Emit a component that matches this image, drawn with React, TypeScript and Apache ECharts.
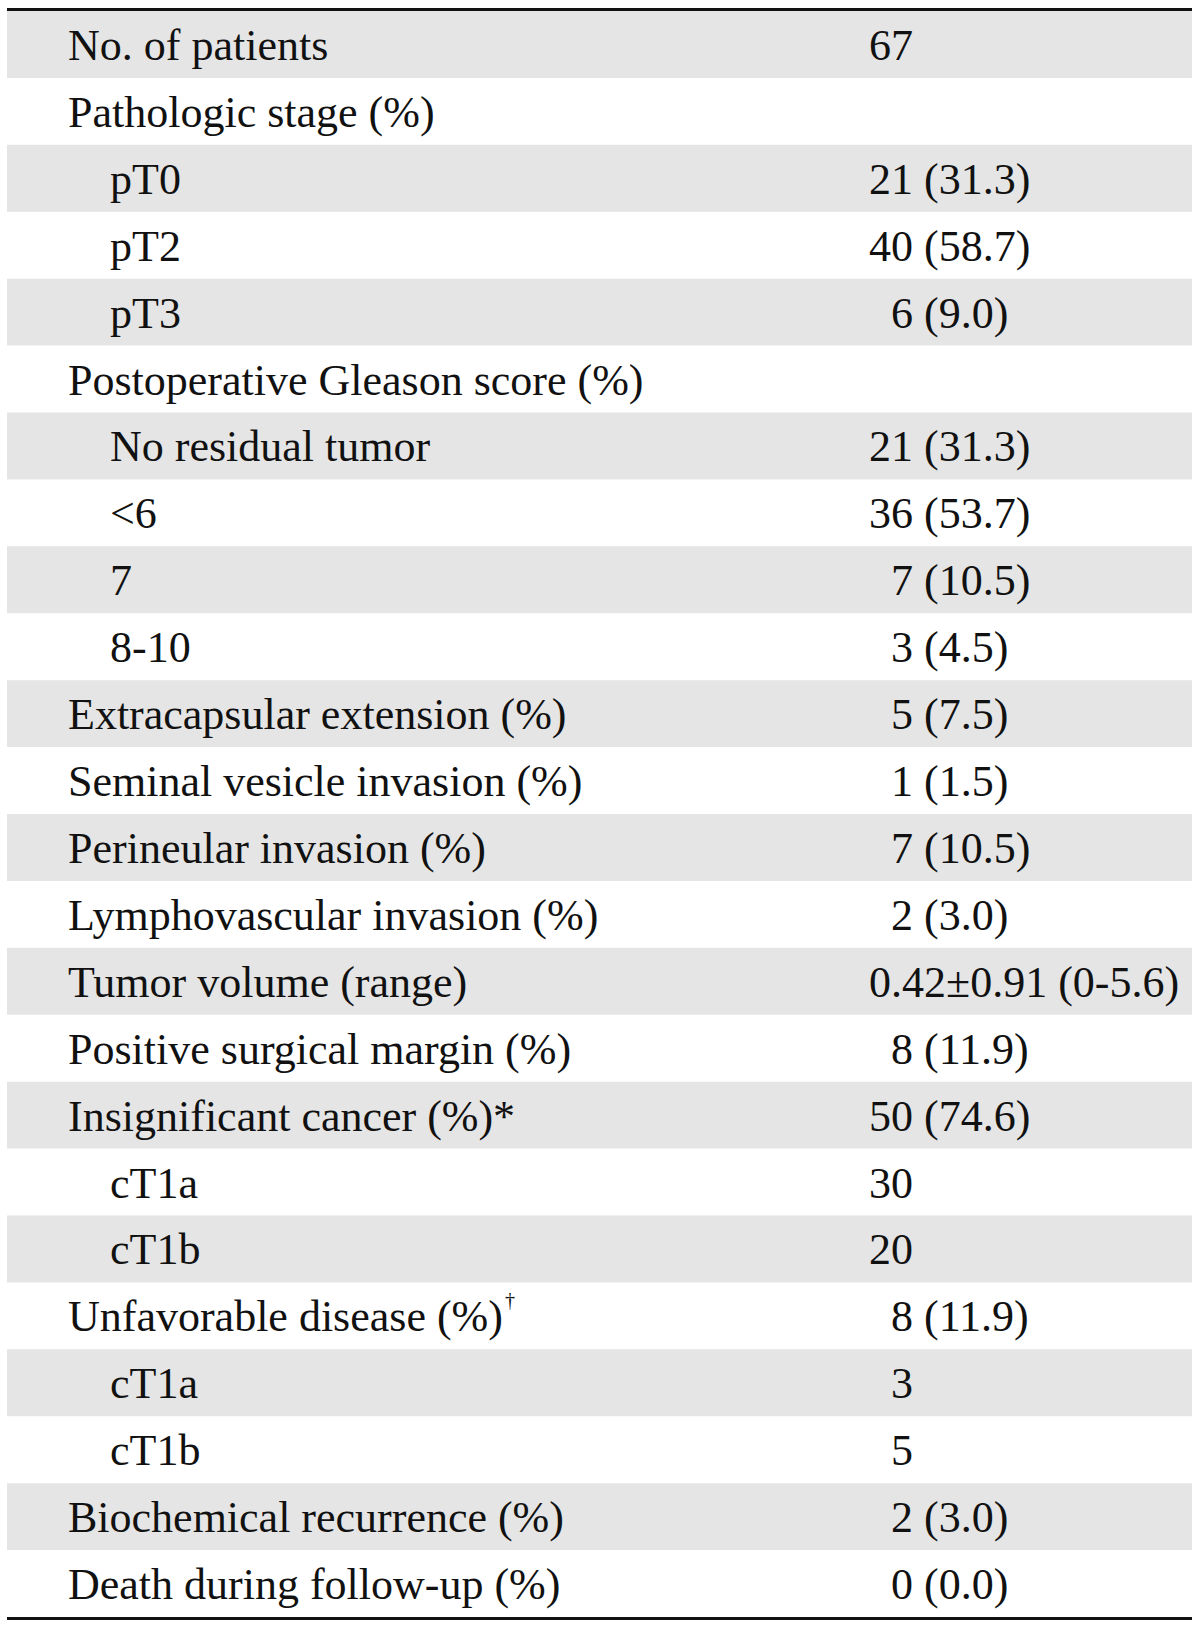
import React, { useEffect, useRef } from "react";
import * as echarts from "echarts";

const rowLabels: string[] = [
  "No. of patients",
  "Pathologic stage (%)",
  "pT0",
  "pT2",
  "pT3",
  "Postoperative Gleason score (%)",
  "No residual tumor",
  "<6",
  "7",
  "8-10",
  "Extracapsular extension (%)",
  "Seminal vesicle invasion (%)",
  "Perineular invasion (%)",
  "Lymphovascular invasion (%)",
  "Tumor volume (range)",
  "Positive surgical margin (%)",
  "Insignificant cancer (%)*",
  "cT1a",
  "cT1b",
  "Unfavorable disease (%)",
  "cT1a",
  "cT1b",
  "Biochemical recurrence (%)",
  "Death during follow-up (%)",
];

const rowValues: string[] = [
  "67",
  "",
  "21 (31.3)",
  "40 (58.7)",
  "6 (9.0)",
  "",
  "21 (31.3)",
  "36 (53.7)",
  "7 (10.5)",
  "3 (4.5)",
  "5 (7.5)",
  "1 (1.5)",
  "7 (10.5)",
  "2 (3.0)",
  "0.42±0.91 (0-5.6)",
  "8 (11.9)",
  "50 (74.6)",
  "30",
  "20",
  "8 (11.9)",
  "3",
  "5",
  "2 (3.0)",
  "0 (0.0)",
];

const rowLevels: number[] = [0, 0, 1, 1, 1, 0, 1, 1, 1, 1, 0, 0, 0, 0, 0, 0, 0, 1, 1, 0, 1, 1, 0, 0];

const rowSuperscripts: string[] = [
  "", "", "", "", "", "", "", "", "", "", "", "", "", "", "", "", "", "", "", "†", "", "", "", "",
];

const FONT = '"Liberation Serif", "Times New Roman", serif';
const FONT_SIZE = 44;
const TEXT_COLOR = "#111111";
const SHADE = "#e5e5e5";

let measureCtx: CanvasRenderingContext2D | null = null;
function measure(text: string): number {
  if (!measureCtx) {
    const c = document.createElement("canvas");
    measureCtx = c.getContext("2d");
  }
  if (!measureCtx) return text.length * FONT_SIZE * 0.45;
  measureCtx.font = `${FONT_SIZE}px ${FONT}`;
  return measureCtx.measureText(text).width;
}

export default function App() {
  const ref = useRef<HTMLDivElement>(null);

  useEffect(() => {
    if (!ref.current) return;
    const chart = echarts.init(ref.current, null, { renderer: "svg" });
    const n = rowLabels.length;

    const option: any = {
      animation: false,
      backgroundColor: "#ffffff",
      grid: { left: 7, right: 8, top: 11, bottom: 11 },
      xAxis: { type: "value", min: 0, max: 1, show: false },
      yAxis: {
        type: "category",
        data: rowLabels.map((_, i) => String(i)),
        inverse: true,
        show: false,
      },
      series: [
        {
          type: "custom",
          clip: false,
          data: rowLabels.map((_, i) => [0, i]),
          renderItem: (params: any, api: any) => {
            const i = api.value(1) as number;
            const c0 = api.coord([0, i]);
            const c1 = api.coord([1, i]);
            const h = api.size([0, 1])[1];
            const left = c0[0];
            const right = c1[0];
            const cy = c0[1];
            const top = cy - h / 2;
            const bottom = cy + h / 2;
            const children: any[] = [];
            if (i % 2 === 0) {
              children.push({
                type: "rect",
                shape: { x: left, y: top, width: right - left, height: h },
                style: { fill: SHADE },
              });
            }
            if (i === 0) {
              children.push({
                type: "line",
                shape: { x1: left, y1: top - 1.5, x2: right, y2: top - 1.5 },
                style: { stroke: "#111111", lineWidth: 3 },
              });
            }
            if (i === n - 1) {
              children.push({
                type: "line",
                shape: { x1: left, y1: bottom + 1.5, x2: right, y2: bottom + 1.5 },
                style: { stroke: "#111111", lineWidth: 3 },
              });
            }
            const labelX = left + (rowLevels[i] === 1 ? 103 : 61);
            const textY = cy + 1;
            children.push({
              type: "text",
              x: labelX,
              y: textY,
              style: {
                text: rowLabels[i],
                font: `${FONT_SIZE}px ${FONT}`,
                fill: TEXT_COLOR,
                align: "left",
                verticalAlign: "middle",
              },
            });
            if (rowSuperscripts[i]) {
              children.push({
                type: "text",
                x: labelX + measure(rowLabels[i]) + 2,
                y: cy - 16,
                style: {
                  text: rowSuperscripts[i],
                  font: `20px ${FONT}`,
                  fill: TEXT_COLOR,
                  align: "left",
                  verticalAlign: "middle",
                },
              });
            }
            const v = rowValues[i];
            if (v) {
              const m = v.match(/^(\d+)(?= |$)/);
              const digits = m ? m[1].length : 2;
              const valueX = left + 862 + (2 - digits) * 22;
              children.push({
                type: "text",
                x: valueX,
                y: textY,
                style: {
                  text: v,
                  font: `${FONT_SIZE}px ${FONT}`,
                  fill: TEXT_COLOR,
                  align: "left",
                  verticalAlign: "middle",
                },
              });
            }
            return { type: "group", children };
          },
        },
      ],
    };

    chart.setOption(option);
    return () => chart.dispose();
  }, []);

  return (
    <div
      ref={ref}
      style={{ position: "absolute", left: 0, top: 0, width: 1200, height: 1628 }}
    />
  );
}
